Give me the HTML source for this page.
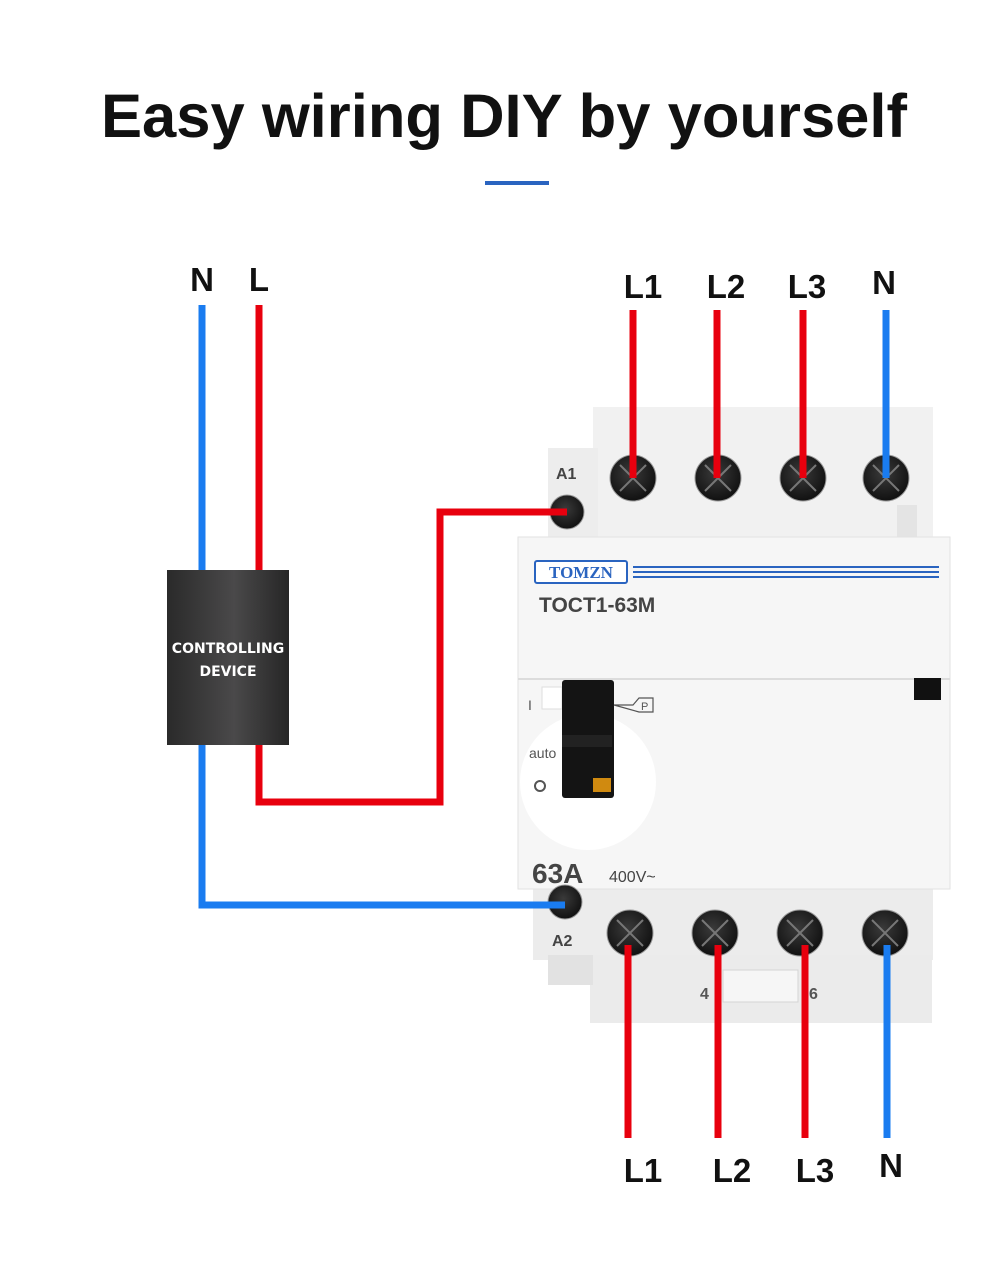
<!DOCTYPE html>
<html><head><meta charset="utf-8"><style>
html,body{margin:0;padding:0;background:#fff;}
svg{display:block;}
text{font-family:"Liberation Sans",sans-serif;}
</style></head><body>
<svg width="1000" height="1287" viewBox="0 0 1000 1287" xmlns="http://www.w3.org/2000/svg">
<defs>
<linearGradient id="box" x1="0" x2="1" y1="0" y2="0">
<stop offset="0" stop-color="#2a2a2a"/><stop offset="0.55" stop-color="#4a494a"/><stop offset="1" stop-color="#262626"/>
</linearGradient>
<radialGradient id="scr" cx="0.45" cy="0.4" r="0.6">
<stop offset="0" stop-color="#3a3a3a"/><stop offset="1" stop-color="#111"/>
</radialGradient>
<clipPath id="face"><rect x="519" y="538" width="430" height="350"/></clipPath>
</defs>
<text x="504" y="137" font-size="61" font-weight="bold" text-anchor="middle" fill="#111" textLength="806" lengthAdjust="spacingAndGlyphs">Easy wiring DIY by yourself</text>
<rect x="485" y="181" width="64" height="4" fill="#2a64c0"/>

<rect x="593" y="407" width="340" height="135" fill="#f1f1f1"/>
<rect x="548" y="448" width="50" height="94" fill="#ededed"/>
<rect x="897" y="505" width="20" height="35" fill="#e4e4e4"/>
<rect x="533" y="885" width="400" height="75" fill="#ececec"/>
<rect x="590" y="955" width="342" height="68" fill="#ebebeb"/>
<rect x="548" y="955" width="45" height="30" fill="#e2e2e2"/>
<rect x="723" y="970" width="75" height="32" fill="#f6f6f6" stroke="#d4d4d4"/>
<rect x="518" y="537" width="432" height="352" fill="#f6f6f6" stroke="#e2e2e2"/>
<line x1="518" y1="679" x2="950" y2="679" stroke="#dcdcdc" stroke-width="2"/>
<rect x="914" y="678" width="27" height="22" fill="#111"/>
<rect x="535" y="561" width="92" height="22" rx="2" fill="#fff" stroke="#2a64c0" stroke-width="2"/>
<text x="581" y="578" font-size="17" font-weight="bold" text-anchor="middle" fill="#2a64c0" style="font-family:'Liberation Serif',serif">TOMZN</text>
<rect x="633" y="566" width="306" height="2" fill="#2a64c0"/>
<rect x="633" y="571" width="306" height="2" fill="#2a64c0"/>
<rect x="633" y="576" width="306" height="2" fill="#2a64c0"/>
<text x="539" y="612" font-size="21" font-weight="bold" fill="#444">TOCT1-63M</text>
<circle cx="588" cy="782" r="68" fill="#fff" clip-path="url(#face)"/>
<rect x="542" y="687" width="20" height="22" fill="#fff" stroke="#ddd"/>
<text x="528" y="710" font-size="14" fill="#555">I</text>
<text x="529" y="758" font-size="14" fill="#555">auto</text>
<circle cx="540" cy="786" r="5" fill="none" stroke="#555" stroke-width="2"/>
<rect x="562" y="680" width="52" height="118" rx="3" fill="#141414"/>
<rect x="562" y="735" width="50" height="12" fill="#222"/>
<rect x="593" y="778" width="18" height="14" fill="#d08a10"/>
<path d="M614 705 H633 L639 698 H653 V712 H639 Z" fill="none" stroke="#555" stroke-width="1.2"/>
<text x="641" y="710" font-size="11" fill="#555">P</text>
<text x="532" y="883" font-size="28" font-weight="bold" fill="#444">63A</text>
<text x="609" y="882" font-size="16" fill="#444">400V~</text>
<text x="556" y="479" font-size="16" font-weight="bold" fill="#444">A1</text>
<text x="552" y="946" font-size="16" font-weight="bold" fill="#444">A2</text>
<text x="700" y="999" font-size="16" font-weight="bold" fill="#555">4</text>
<text x="809" y="999" font-size="16" font-weight="bold" fill="#555">6</text>

<g fill="url(#scr)" stroke="#999" stroke-width="1">
<circle cx="633" cy="478" r="23"/><circle cx="718" cy="478" r="23"/><circle cx="803" cy="478" r="23"/><circle cx="886" cy="478" r="23"/>
<circle cx="630" cy="933" r="23"/><circle cx="715" cy="933" r="23"/><circle cx="800" cy="933" r="23"/><circle cx="885" cy="933" r="23"/>
<circle cx="567" cy="512" r="17"/><circle cx="565" cy="902" r="17"/>
</g>
<g stroke="#777" stroke-width="2">
<path d="M620 465 L646 491 M646 465 L620 491 M705 465 L731 491 M731 465 L705 491 M790 465 L816 491 M816 465 L790 491 M873 465 L899 491 M899 465 L873 491"/>
<path d="M617 920 L643 946 M643 920 L617 946 M702 920 L728 946 M728 920 L702 946 M787 920 L813 946 M813 920 L787 946 M872 920 L898 946 M898 920 L872 946"/>
</g>

<g stroke-width="7" fill="none" stroke-linejoin="miter">
<path d="M633 310 V478 M717 310 V478 M803 310 V478" stroke="#e8000e"/>
<path d="M886 310 V478" stroke="#1a7cf0"/>
<path d="M628 945 V1138 M718 945 V1138 M805 945 V1138" stroke="#e8000e"/>
<path d="M887 945 V1138" stroke="#1a7cf0"/>
<path d="M259 305 V802 H440 V512 H567" stroke="#e8000e"/>
<path d="M202 305 V905 H565" stroke="#1a7cf0"/>
</g>

<rect x="167" y="570" width="122" height="175" fill="url(#box)"/>
<text x="228" y="653" font-size="14" font-weight="bold" fill="#fff" text-anchor="middle" style="font-family:'DejaVu Sans',sans-serif">CONTROLLING</text>
<text x="228" y="676" font-size="14" font-weight="bold" fill="#fff" text-anchor="middle" style="font-family:'DejaVu Sans',sans-serif">DEVICE</text>

<g font-size="33" font-weight="bold" fill="#111" text-anchor="middle">
<text x="202" y="291">N</text><text x="259" y="291">L</text>
<text x="643" y="298">L1</text><text x="726" y="298">L2</text><text x="807" y="298">L3</text><text x="884" y="294">N</text>
<text x="643" y="1182">L1</text><text x="732" y="1182">L2</text><text x="815" y="1182">L3</text><text x="891" y="1177">N</text>
</g>
</svg>
</body></html>
